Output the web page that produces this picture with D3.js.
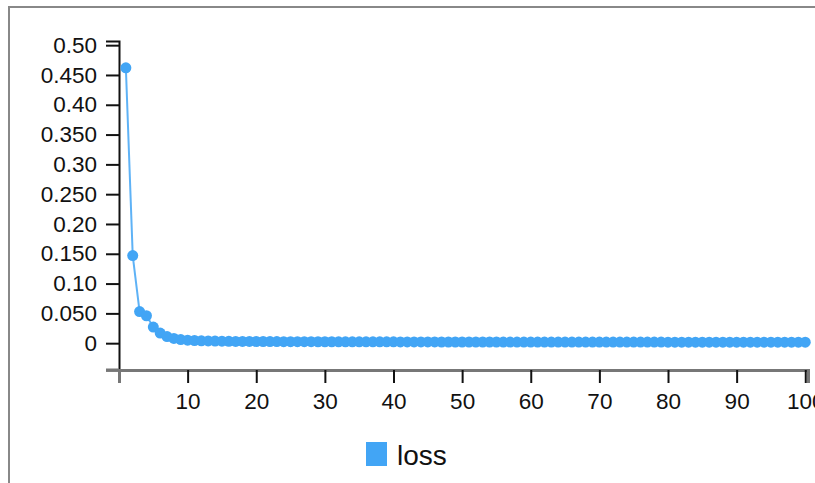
<!DOCTYPE html>
<html><head><meta charset="utf-8">
<script src="https://cdn.jsdelivr.net/npm/d3@7/dist/d3.min.js"></script>
<style>
html,body{margin:0;padding:0;background:#fff;overflow:hidden;}
svg{display:block;font-family:"Liberation Sans",Arial,sans-serif;}
</style></head>
<body><svg id="c" width="815" height="483"></svg>
<script>
const epochs = d3.range(1, 101);
const loss = [0.462,0.147,0.053,0.046,0.027,0.017,0.011,0.008,0.006,0.005,
0.0045,0.004,0.0038,0.0035,0.0033,0.0032,0.003,0.003,0.0029,0.0028,
0.0028,0.0027,0.0027,0.0026,0.0026,0.0025,0.0025,0.0025,0.0024,0.0024,
0.0024,0.0023,0.0023,0.0023,0.0023,0.0022,0.0022,0.0022,0.0022,0.0022,
0.0021,0.0021,0.0021,0.0021,0.0021,0.0021,0.002,0.002,0.002,0.002,
0.002,0.002,0.002,0.002,0.002,0.0019,0.0019,0.0019,0.0019,0.0019,
0.0019,0.0019,0.0019,0.0019,0.0019,0.0018,0.0018,0.0018,0.0018,0.0018,
0.0018,0.0018,0.0018,0.0018,0.0018,0.0018,0.0018,0.0018,0.0018,0.0017,
0.0017,0.0017,0.0017,0.0017,0.0017,0.0017,0.0017,0.0017,0.0017,0.0017,
0.0017,0.0017,0.0017,0.0017,0.0017,0.0017,0.0017,0.0017,0.0017,0.0017];
const yTickValues = [0,0.05,0.1,0.15,0.2,0.25,0.3,0.35,0.4,0.45,0.5];
const yTickLabels = ["0","0.050","0.10","0.150","0.20","0.250","0.30","0.350","0.40","0.450","0.50"];
const xTickValues = [10,20,30,40,50,60,70,80,90,100];
const seriesName = "loss";

const svg = d3.select("#c");
const color = "#42a5f5";

svg.append("rect").attr("x",9).attr("y",7).attr("width",830).attr("height",500)
  .attr("fill","none").attr("stroke","#888").attr("stroke-width",2);

const x = d3.scaleLinear().domain([0,100.4]).range([119,808]);
const y = d3.scaleLinear().domain([-0.045,0.507]).range([370,41]);

const yAxis = d3.axisLeft(y).tickValues(yTickValues)
  .tickFormat((d,i)=>yTickLabels[i]).tickSize(13).tickPadding(9);
const gy = svg.append("g").attr("transform","translate(119,0)").call(yAxis);
gy.select(".domain").attr("stroke","#111").attr("stroke-width",2);
gy.selectAll(".tick line").attr("stroke","#111").attr("stroke-width",2);
gy.selectAll(".tick text").attr("font-size",22.5).attr("fill","#111")
  .attr("font-family","'Liberation Sans',Arial,sans-serif");

const xAxis = d3.axisBottom(x).tickValues(xTickValues).tickSize(13).tickPadding(10);
const gx = svg.append("g").attr("transform","translate(0,370)").call(xAxis);
gx.select(".domain").attr("stroke","#777").attr("stroke-width",3);
gx.selectAll(".tick line").attr("stroke","#111").attr("stroke-width",2);
gx.selectAll(".tick text").attr("font-size",22.5).attr("fill","#111")
  .attr("font-family","'Liberation Sans',Arial,sans-serif");
svg.append("line").attr("x1",106).attr("x2",119).attr("y1",370).attr("y2",370)
  .attr("stroke","#777").attr("stroke-width",3);

const line = d3.line().x((d,i)=>x(epochs[i])).y(d=>y(d));
svg.append("path").datum(loss).attr("d",line).attr("fill","none")
  .attr("stroke",color).attr("stroke-opacity",0.85).attr("stroke-width",2);
svg.append("g").selectAll("circle").data(loss).join("circle")
  .attr("cx",(d,i)=>x(epochs[i])).attr("cy",d=>y(d)).attr("r",5.5).attr("fill",color);

const lg = svg.append("g");
lg.append("rect").attr("x",366).attr("y",442).attr("width",21).attr("height",24).attr("fill",color);
lg.append("text").attr("x",397).attr("y",465).attr("font-size",28).attr("fill","#111").text(seriesName);
</script></body></html>
